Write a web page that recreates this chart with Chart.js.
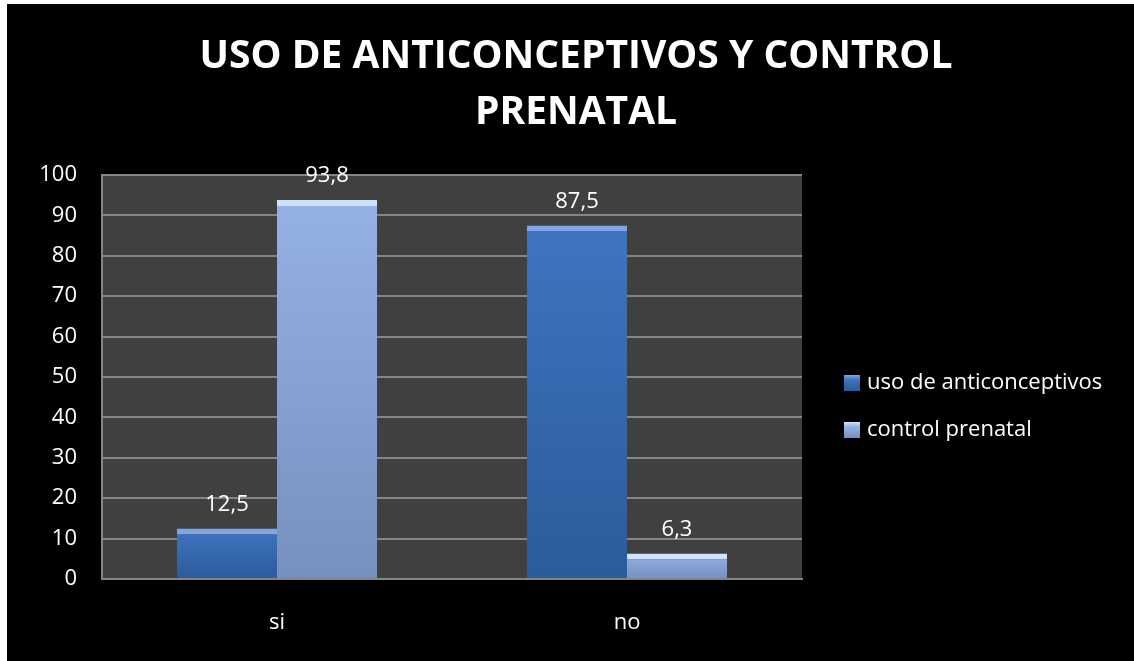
<!DOCTYPE html>
<html>
<head>
<meta charset="utf-8">
<script src="https://cdn.jsdelivr.net/npm/chart.js@4"></script>
<style>
  body { margin: 0; background: #ffffff; }
  #wrap { position: absolute; left: 7px; top: 4px; width: 1127px; height: 657px; background: #000000; }
</style>
</head>
<body>
<div id="wrap"><canvas id="myChart" width="1127" height="657"></canvas></div>
<script>
const titleLines = ["USO DE ANTICONCEPTIVOS Y CONTROL", "PRENATAL"];
const categories = ["si", "no"];
const seriesNames = ["uso de anticonceptivos", "control prenatal"];
const usoAnticonceptivos = [12.5, 87.5];
const controlPrenatal = [93.8, 6.3];
const yTicks = [0, 10, 20, 30, 40, 50, 60, 70, 80, 90, 100];

const barTop = ["#3f74bf", "#95b2e4"];
const barBottom = ["#2c5b9b", "#7690bf"];
const bevel = ["#7ea6e6", "#d0e1fa"];
const fontName = "'Open Sans', sans-serif";

// one gradient per bar, light on top, darker at the base
function barFill(i) {
  return (c) => {
    const chart = c.chart;
    if (!chart.chartArea || c.type !== "data") return barTop[i];
    const y = chart.scales.y;
    const top = y.getPixelForValue(c.raw);
    const bottom = y.getPixelForValue(0);
    const g = chart.ctx.createLinearGradient(0, top, 0, bottom);
    g.addColorStop(0, barTop[i]);
    g.addColorStop(1, barBottom[i]);
    return g;
  };
}

// dark gray plot background
const plotBg = {
  id: "plotBg",
  beforeDraw(chart) {
    const { ctx, chartArea: a } = chart;
    ctx.save();
    ctx.fillStyle = "#404040";
    ctx.fillRect(a.left, a.top, a.right - a.left, a.bottom - a.top);
    ctx.restore();
  }
};

// title centred over the whole picture
const bigTitle = {
  id: "bigTitle",
  afterDraw(chart) {
    const { ctx } = chart;
    ctx.save();
    ctx.fillStyle = "#ffffff";
    ctx.font = "bold 39px " + fontName;
    ctx.textAlign = "center";
    ctx.textBaseline = "middle";
    titleLines.forEach((t, i) => ctx.fillText(t, 569, 53 + i * 56));
    ctx.restore();
  }
};

// value labels above each bar, comma as decimal sign
const valueLabels = {
  id: "valueLabels",
  afterDatasetsDraw(chart) {
    const { ctx } = chart;
    ctx.save();
    ctx.fillStyle = "#ffffff";
    ctx.font = "22px " + fontName;
    ctx.textAlign = "center";
    ctx.textBaseline = "middle";
    chart.data.datasets.forEach((ds, i) => {
      chart.getDatasetMeta(i).data.forEach((bar, j) => {
        const txt = ds.data[j].toFixed(1).replace(".", ",");
        ctx.fillText(txt, bar.x, bar.y - 24);
      });
    });
    ctx.restore();
  }
};

// legend on the right side
const sideLegend = {
  id: "sideLegend",
  afterDraw(chart) {
    const { ctx } = chart;
    const x = 837, ys = [379, 426];
    ctx.save();
    ctx.font = "22px " + fontName;
    ctx.textBaseline = "middle";
    chart.data.datasets.forEach((ds, i) => {
      const g = ctx.createLinearGradient(0, ys[i] - 8, 0, ys[i] + 8);
      g.addColorStop(0, bevel[i]);
      g.addColorStop(0.3, barTop[i]);
      g.addColorStop(1, barBottom[i]);
      ctx.fillStyle = g;
      ctx.fillRect(x, ys[i] - 8, 16, 16);
      ctx.fillStyle = "#ffffff";
      ctx.fillText(ds.label, x + 23, ys[i]);
    });
    ctx.restore();
  }
};

const ctx = document.getElementById("myChart").getContext("2d");

new Chart(ctx, {
  type: "bar",
  data: {
    labels: categories,
    datasets: [
      {
        label: seriesNames[0],
        data: usoAnticonceptivos,
        backgroundColor: barFill(0),
        borderColor: bevel[0],
        borderWidth: { top: 6, left: 0, right: 0, bottom: 0 },
        borderSkipped: "bottom",
      },
      {
        label: seriesNames[1],
        data: controlPrenatal,
        backgroundColor: barFill(1),
        borderColor: bevel[1],
        borderWidth: { top: 6, left: 0, right: 0, bottom: 0 },
        borderSkipped: "bottom",
      },
    ],
  },
  options: {
    responsive: false,
    animation: false,
    categoryPercentage: 200 / 350,
    barPercentage: 1,
    layout: { padding: { left: 32, right: 332, top: 171, bottom: 24 } },
    plugins: {
      legend: { display: false },
      tooltip: { enabled: false },
      title: { display: false },
    },
    scales: {
      x: {
        afterFit(axis) { axis.height = 58; },
        grid: { display: false, drawTicks: false },
        border: { color: "#858585", width: 2 },
        ticks: { color: "#ffffff", font: { family: fontName, size: 22 }, padding: 31 },
      },
      y: {
        min: 0,
        max: 100,
        afterBuildTicks(axis) { axis.ticks = yTicks.map(v => ({ value: v })); },
        afterFit(axis) { axis.width = 63; },
        grid: { color: "#858585", lineWidth: 2, drawTicks: false },
        border: { color: "#858585", width: 2 },
        ticks: { color: "#ffffff", font: { family: fontName, size: 22 }, padding: 25 },
      },
    },
  },
  plugins: [plotBg, valueLabels, sideLegend, bigTitle],
});
</script>
</body>
</html>
